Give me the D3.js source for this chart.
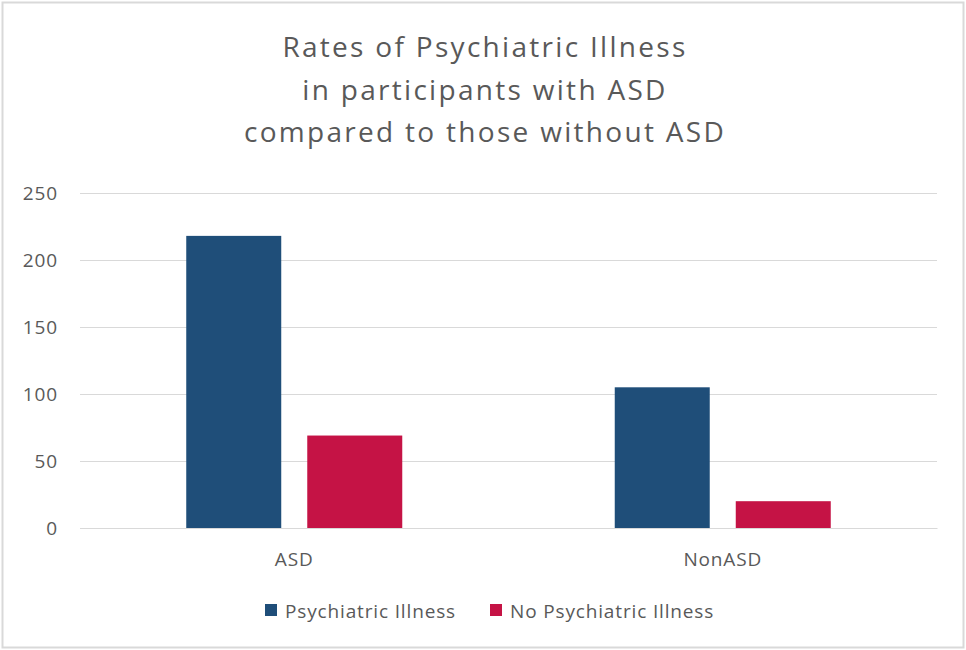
<!DOCTYPE html>
<html>
<head>
<meta charset="utf-8">
<script src="https://cdn.jsdelivr.net/npm/d3@7"></script>
<style>
  html, body { margin: 0; padding: 0; background: #fff; }
  svg { display: block; }
  text { font-family: "Open Sans", sans-serif; fill: #595959; }
</style>
</head>
<body>
<svg id="chart" width="966" height="650"></svg>
<script>
// Counts of participants by group and diagnosis
const groups = ["ASD", "NonASD"];
const seriesNames = ["Psychiatric Illness", "No Psychiatric Illness"];
const psychiatric = [218, 105];
const noPsychiatric = [69, 20];
const yTicks = [0, 50, 100, 150, 200, 250];
const titleLines = ["Rates of Psychiatric Illness", "in participants with ASD", "compared to those without ASD"];
const colors = ["#1f4e79", "#c51345"];

const svg = d3.select("#chart");
const W = 966, H = 650;
const margin = { left: 80, right: 29, top: 193, bottom: 122 };
const FONT = "'Open Sans', sans-serif";
const LABEL_SIZE = 19, LABEL_SPACING = 0.85;

// outer chart border
svg.append("rect")
  .attr("x", 2.5).attr("y", 2.5)
  .attr("width", W - 5).attr("height", H - 5)
  .attr("fill", "#fff").attr("stroke", "#d9d9d9").attr("stroke-width", 2);

// title
svg.append("g").selectAll("text")
  .data(titleLines)
  .join("text")
  .attr("x", 485)
  .attr("y", (d, i) => 57 + i * 42.5)
  .attr("text-anchor", "middle")
  .attr("font-size", 28)
  .attr("letter-spacing", 2.3)
  .text(d => d);

const x0 = d3.scaleBand()
  .domain(groups)
  .range([margin.left, W - margin.right]);

const x1 = d3.scaleBand()
  .domain(seriesNames)
  .range([0, x0.bandwidth()])
  .paddingInner(0.215)
  .paddingOuter(0.878);

const y = d3.scaleLinear()
  .domain([0, 250])
  .range([H - margin.bottom, margin.top]);

// gridlines and value labels
const yAxis = d3.axisLeft(y)
  .tickValues(yTicks)
  .tickSize(-(W - margin.left - margin.right))
  .tickPadding(22);

const yg = svg.append("g")
  .attr("transform", `translate(${margin.left},0)`)
  .call(yAxis);
yg.select(".domain").remove();
yg.selectAll(".tick line").attr("stroke", "#d9d9d9").attr("stroke-width", 1);
yg.selectAll(".tick text")
  .attr("font-size", LABEL_SIZE)
  .attr("letter-spacing", LABEL_SPACING)
  .attr("fill", "#595959")
  .style("font-family", FONT);

// bars
const data = groups.map((g, i) => ({
  group: g,
  values: [
    { key: seriesNames[0], value: psychiatric[i] },
    { key: seriesNames[1], value: noPsychiatric[i] }
  ]
}));

svg.append("g").selectAll("g")
  .data(data)
  .join("g")
  .attr("transform", d => `translate(${x0(d.group)},0)`)
  .selectAll("rect")
  .data(d => d.values)
  .join("rect")
  .attr("x", d => x1(d.key))
  .attr("width", x1.bandwidth())
  .attr("y", d => y(d.value))
  .attr("height", d => y(0) - y(d.value))
  .attr("fill", (d, i) => colors[i]);

// category axis
const xAxis = d3.axisBottom(x0).tickSize(0).tickPadding(25);
const xg = svg.append("g")
  .attr("transform", `translate(0,${y(0)})`)
  .call(xAxis);
xg.select(".domain").attr("stroke", "#d9d9d9");
xg.selectAll(".tick text")
  .attr("font-size", LABEL_SIZE)
  .attr("letter-spacing", LABEL_SPACING)
  .attr("fill", "#595959")
  .style("font-family", FONT);

// legend
const legendItems = [
  { name: seriesNames[0], color: colors[0], x: 265 },
  { name: seriesNames[1], color: colors[1], x: 490 }
];
const lg = svg.append("g").selectAll("g")
  .data(legendItems)
  .join("g")
  .attr("transform", d => `translate(${d.x},604)`);
lg.append("rect")
  .attr("width", 12).attr("height", 12)
  .attr("fill", d => d.color);
lg.append("text")
  .attr("x", 20).attr("y", 14)
  .attr("font-size", LABEL_SIZE)
  .attr("letter-spacing", LABEL_SPACING)
  .text(d => d.name);
</script>
</body>
</html>
